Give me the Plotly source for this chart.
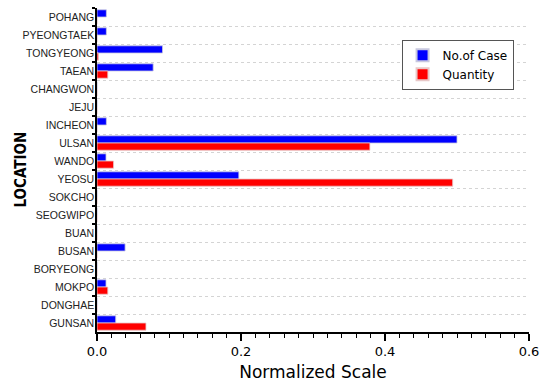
import plotly.graph_objects as go

locations = ["POHANG", "PYEONGTAEK", "TONGYEONG", "TAEAN", "CHANGWON", "JEJU",
             "INCHEON", "ULSAN", "WANDO", "YEOSU", "SOKCHO", "SEOGWIPO", "BUAN",
             "BUSAN", "BORYEONG", "MOKPO", "DONGHAE", "GUNSAN"]
no_of_case = [0.013, 0.013, 0.091, 0.078, 0, 0, 0.013, 0.5, 0.0125, 0.197,
              0, 0, 0, 0.039, 0, 0.0125, 0, 0.026]
quantity = [0, 0, 0.002, 0.015, 0, 0, 0, 0.379, 0.023, 0.494,
            0, 0, 0, 0, 0, 0.015, 0, 0.068]
x_ticks = [0.0, 0.2, 0.4, 0.6]

gfont = "DejaVu Sans"

fig = go.Figure()
fig.add_trace(go.Bar(y=locations, x=no_of_case, orientation="h", name="No.of Case",
                     marker=dict(color="#0000ff", line=dict(color="#c8c8e0", width=0.8))))
fig.add_trace(go.Bar(y=locations, x=quantity, orientation="h", name="Quantity",
                     marker=dict(color="#ff0000", line=dict(color="#e8c8c8", width=0.8))))

fig.update_layout(
    width=546, height=385,
    margin=dict(l=97, r=17, t=8, b=53),
    paper_bgcolor="white", plot_bgcolor="white",
    barmode="group", bargap=0.2, bargroupgap=0.0,
    showlegend=True,
    legend=dict(x=0.705, y=0.825, xanchor="left", yanchor="middle",
                bgcolor="white", bordercolor="#555", borderwidth=1,
                font=dict(family=gfont, size=12, color="black"),
                tracegroupgap=0, itemsizing="constant"),
    xaxis=dict(range=[0, 0.6], tickvals=x_ticks, ticktext=["0.0", "0.2", "0.4", "0.6"],
               automargin=False,
               showgrid=False, zeroline=False, showline=True, linecolor="black", linewidth=1.5,
               ticks="outside", ticklen=7, tickwidth=1.5, tickcolor="black",
               minor=dict(dtick=0.02, tick0=0, ticks="outside", ticklen=4, tickcolor="black", tickwidth=1),
               tickfont=dict(family=gfont, size=13, color="black"),
               title=dict(text="Normalized Scale", font=dict(family=gfont, size=17, color="black"), standoff=8)),
    yaxis=dict(categoryorder="array", categoryarray=locations, autorange="reversed",
               automargin=False,
               tickson="boundaries", showgrid=True, gridcolor="#d4d4d4", griddash="dot", gridwidth=1,
               zeroline=False, showline=True, linecolor="black", linewidth=1.5,
               ticks="outside", ticklen=3, tickwidth=1.5, tickcolor="black",
               ticklabelstandoff=-1,
               tickfont=dict(family="Liberation Sans", size=10.5, color="#222")),
    annotations=[dict(text="LOCATION", xref="paper", yref="paper",
                      x=(20.5 - 97) / 432, y=0.5, xanchor="center", yanchor="middle",
                      textangle=-90, showarrow=False,
                      font=dict(family="Liberation Sans Narrow, DejaVu Sans Condensed, Liberation Sans",
                                size=15, color="black", weight="bold"))],
)

fig.write_html("out.html")
